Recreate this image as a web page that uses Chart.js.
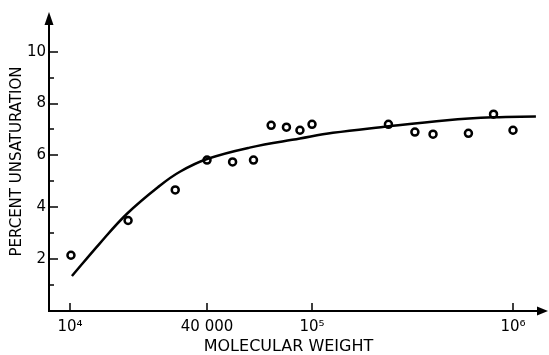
<!DOCTYPE html>
<html>
<head>
<meta charset="utf-8">
<script src="https://cdn.jsdelivr.net/npm/chart.js@4/dist/chart.umd.min.js"></script>
<style>
  html, body { margin: 0; padding: 0; background: #fff; }
  canvas { display: block; }
</style>
</head>
<body>
<canvas id="myChart" width="549" height="355"></canvas>
<script>
// measured points
var pointWeight = [10100, 18000, 29000, 40000, 50000, 60000, 70000, 80000, 90000, 100000,
                   240000, 325000, 400000, 600000, 800000, 1000000];
var pointUnsat = [2.15, 3.49, 4.67, 5.82, 5.75, 5.82, 7.16, 7.09, 6.97, 7.2,
                  7.2, 6.9, 6.82, 6.85, 7.59, 6.97];

// fitted curve
var curveWeight = [10200, 13500, 17800, 24800, 30400, 40000, 58000, 90000, 127000,
                   220000, 470000, 800000, 1300000];
var curveUnsat = [1.35, 2.6, 3.75, 4.83, 5.37, 5.86, 6.3, 6.65, 6.87, 7.09, 7.36, 7.47, 7.5];

// axis ticks
var xTickValues = [1e4, 4e4, 1e5, 1e6];
var xTickLabels = ['10\u2074', '40 000', '10\u2075', '10\u2076'];
var yTickValues = [1, 2, 3, 4, 5, 6, 7, 8, 9, 10];
var yTickLabels = ['', '2', '', '4', '', '6', '', '8', '', '10'];

// the printed axis is not evenly spaced per decade, so map log10 values piecewise
var xWarp = [[3.9077, 0], [4, 0.0438], [Math.log10(4e4), 0.3299], [5, 0.5491], [6, 0.9687], [6.0746, 1]];

function warp(lv) {
  var i = 1;
  while (i < xWarp.length - 1 && lv > xWarp[i][0]) i++;
  var a = xWarp[i - 1], b = xWarp[i];
  return a[1] + (lv - a[0]) * (b[1] - a[1]) / (b[0] - a[0]);
}
function unwarp(d) {
  var i = 1;
  while (i < xWarp.length - 1 && d > xWarp[i][1]) i++;
  var a = xWarp[i - 1], b = xWarp[i];
  return a[0] + (d - a[1]) * (b[0] - a[0]) / (b[1] - a[1]);
}

class WarpLogScale extends Chart.LogarithmicScale {
  getPixelForValue(value) {
    if (value === undefined || value === 0) value = this.min;
    if (value === null || isNaN(value)) return NaN;
    return this.getPixelForDecimal(warp(Math.log10(value)));
  }
  getValueForPixel(pixel) {
    return Math.pow(10, unwarp(this.getDecimalForPixel(pixel)));
  }
}
WarpLogScale.id = 'warplog';
WarpLogScale.defaults = Chart.LogarithmicScale.defaults;
Chart.register(WarpLogScale);

// axis lines with arrow heads and inward tick marks
var axesPlugin = {
  id: 'axes',
  afterDraw: function (chart) {
    var ctx = chart.ctx, a = chart.chartArea;
    var xs = chart.scales.x, ys = chart.scales.y;
    var x0 = a.left, y0 = a.bottom, xEnd = chart.width - 1, yTop = a.top;
    ctx.save();
    ctx.strokeStyle = '#000';
    ctx.fillStyle = '#000';
    ctx.lineWidth = 2;
    ctx.beginPath();
    ctx.moveTo(x0, yTop + 8);
    ctx.lineTo(x0, y0);
    ctx.lineTo(xEnd - 8, y0);
    ctx.stroke();
    ctx.beginPath();
    ctx.moveTo(xEnd, y0);
    ctx.lineTo(xEnd - 11, y0 - 4.5);
    ctx.lineTo(xEnd - 11, y0 + 4.5);
    ctx.closePath();
    ctx.fill();
    ctx.beginPath();
    ctx.moveTo(x0, yTop);
    ctx.lineTo(x0 - 4.5, yTop + 13);
    ctx.lineTo(x0 + 4.5, yTop + 13);
    ctx.closePath();
    ctx.fill();
    ctx.lineWidth = 1.5;
    ctx.beginPath();
    xs.ticks.forEach(function (t) {
      var px = Math.round(xs.getPixelForValue(t.value));
      ctx.moveTo(px, y0);
      ctx.lineTo(px, y0 - 8);
    });
    ys.ticks.forEach(function (t, i) {
      var py = Math.round(ys.getPixelForValue(t.value));
      ctx.moveTo(x0, py);
      ctx.lineTo(x0 + (yTickLabels[i] ? 9 : 5), py);
    });
    ctx.stroke();
    ctx.restore();
  }
};

var tickFont = { family: 'DejaVu Sans', size: 15 };

var ctx = document.getElementById('myChart').getContext('2d');
var chart = new Chart(ctx, {
  type: 'scatter',
  data: {
    datasets: [{
      // smooth curve
      type: 'line',
      data: curveWeight.map(function (w, i) { return { x: w, y: curveUnsat[i] }; }),
      borderColor: '#000',
      borderWidth: 2.5,
      pointRadius: 0,
      tension: 0.4,
      fill: false,
      clip: false
    }, {
      // open circle markers
      data: pointWeight.map(function (w, i) { return { x: w, y: pointUnsat[i] }; }),
      pointRadius: 3.5,
      pointBorderWidth: 2.5,
      pointBorderColor: '#000',
      pointBackgroundColor: '#fff',
      clip: false
    }, {
      // dot inside each marker
      data: pointWeight.map(function (w, i) { return { x: w, y: pointUnsat[i] }; }),
      pointRadius: 0.8,
      pointBorderWidth: 0,
      pointBackgroundColor: '#000',
      clip: false
    }]
  },
  options: {
    responsive: false,
    animation: false,
    devicePixelRatio: 1,
    layout: { padding: { top: 10, right: 21, left: 0, bottom: 0 } },
    plugins: { legend: { display: false }, tooltip: { enabled: false } },
    scales: {
      x: {
        type: 'warplog',
        bounds: 'data',
        min: 8085,
        max: 1187500,
        grid: { display: false, drawTicks: false },
        border: { display: false },
        afterBuildTicks: function (s) {
          s.ticks = xTickValues.map(function (v) { return { value: v }; });
        },
        afterFit: function (s) { s.height = 44; },
        ticks: {
          autoSkip: false,
          maxRotation: 0,
          padding: 7,
          color: '#000',
          font: tickFont,
          callback: function (v, i) { return xTickLabels[i]; }
        },
        title: {
          display: true,
          text: 'MOLECULAR WEIGHT',
          color: '#000',
          font: { family: 'DejaVu Sans', size: 16, lineHeight: 1 },
          padding: { top: 0, bottom: 0 }
        }
      },
      y: {
        type: 'linear',
        min: 0,
        max: 11.53,
        grid: { display: false, drawTicks: false },
        border: { display: false },
        afterBuildTicks: function (s) {
          s.ticks = yTickValues.map(function (v) { return { value: v }; });
        },
        afterFit: function (s) { s.width = 49; },
        ticks: {
          autoSkip: false,
          padding: 3,
          color: '#000',
          font: tickFont,
          callback: function (v, i) { return yTickLabels[i]; }
        },
        title: {
          display: true,
          text: 'PERCENT UNSATURATION',
          color: '#000',
          font: { family: 'DejaVu Sans', size: 15 },
          padding: { top: 8, bottom: 0 }
        }
      }
    }
  },
  plugins: [axesPlugin]
});
</script>
</body>
</html>
